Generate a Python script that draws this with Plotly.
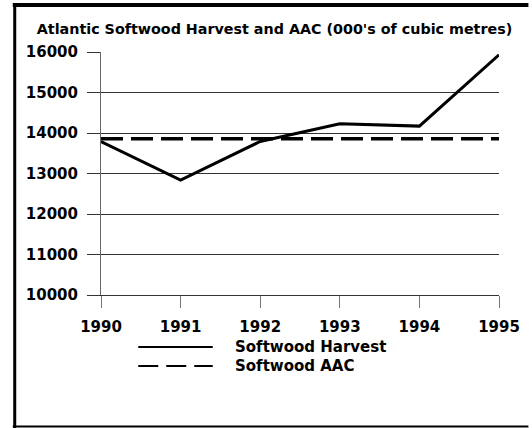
import plotly.graph_objects as go

# data (000's of cubic metres)
years = [1990, 1991, 1992, 1993, 1994, 1995]
softwood_harvest = [13790, 12840, 13790, 14230, 14170, 15930]
softwood_aac = [13860, 13860, 13860, 13860, 13860, 13860]
series_names = ["Softwood Harvest", "Softwood AAC"]
title_text = "Atlantic Softwood Harvest and AAC (000's of cubic metres)"

W, H = 532, 428
L, R, T, B = 101, 25, 52, 133
pw, ph = W - L - R, H - T - B


def px_x(x):
    return (x - L) / pw


def px_y(y):
    return (H - B - y) / ph


font = "DejaVu Sans"

fig = go.Figure()
fig.add_trace(go.Scatter(x=years, y=softwood_harvest, name=series_names[0], mode="lines",
                         line=dict(color="black", width=3)))
fig.add_trace(go.Scatter(x=years, y=softwood_aac, name=series_names[1], mode="lines",
                         line=dict(color="black", width=3.5, dash="22px,8px")))

fig.update_layout(
    width=W, height=H, autosize=False,
    margin=dict(l=L, r=R, t=T, b=B, pad=0),
    plot_bgcolor="white", paper_bgcolor="white",
    showlegend=False,
    font=dict(family=font, color="black", size=15, weight="bold"),
    title=dict(text=title_text, x=274.5 / W, y=1 - 29 / H, xanchor="center", yanchor="middle",
               xref="container", yref="container",
               font=dict(family=font, size=14.3, color="black", weight="bold")),
)

fig.update_xaxes(range=[1990, 1995], tickvals=years, ticktext=[str(y) for y in years],
                 showgrid=False, zeroline=False, showline=True, linecolor="#333", linewidth=1,
                 ticks="outside", ticklen=12, tickcolor="#777", tickwidth=1,
                 ticklabelstandoff=6, tickfont=dict(size=15, weight="bold"))
fig.update_yaxes(range=[10000, 16000], dtick=1000, tickformat="d",
                 showgrid=True, gridcolor="#333", gridwidth=1,
                 zeroline=False, showline=True, linecolor="#666", linewidth=1, mirror=False,
                 ticks="outside", ticklen=13, tickcolor="#333", tickwidth=1,
                 ticklabelstandoff=6, tickfont=dict(size=15, weight="bold"))

# frame round the whole chart (open on the right)
shapes = [
    dict(type="line", xref="paper", yref="paper", x0=px_x(11), x1=px_x(W + 5),
         y0=px_y(5), y1=px_y(5), line=dict(color="black", width=4)),
    dict(type="line", xref="paper", yref="paper", x0=px_x(13), x1=px_x(13),
         y0=px_y(3), y1=px_y(428), line=dict(color="black", width=3)),
    dict(type="line", xref="paper", yref="paper", x0=px_x(11), x1=px_x(W + 5),
         y0=px_y(426.5), y1=px_y(426.5), line=dict(color="black", width=2)),
]

# hand-drawn legend below the plot
legend_rows = [347, 366]
legend_dash = ["solid", "20px,8px"]
annotations = []
for name, row, dash in zip(series_names, legend_rows, legend_dash):
    shapes.append(dict(type="line", xref="paper", yref="paper", x0=px_x(139), x1=px_x(215),
                       y0=px_y(row), y1=px_y(row), line=dict(color="black", width=2, dash=dash)))
    annotations.append(dict(text=name, xref="paper", yref="paper", x=px_x(236), y=px_y(row),
                            xanchor="left", yanchor="middle", showarrow=False,
                            font=dict(family=font, size=15, color="black", weight="bold")))

fig.update_layout(shapes=shapes, annotations=annotations)

# page body has a default 8px margin; drop it so the figure fills the window
fig.write_html("out.html", config={"displayModeBar": False},
               post_script="document.body.style.margin='0';"
                           "document.documentElement.style.overflow='hidden';")
